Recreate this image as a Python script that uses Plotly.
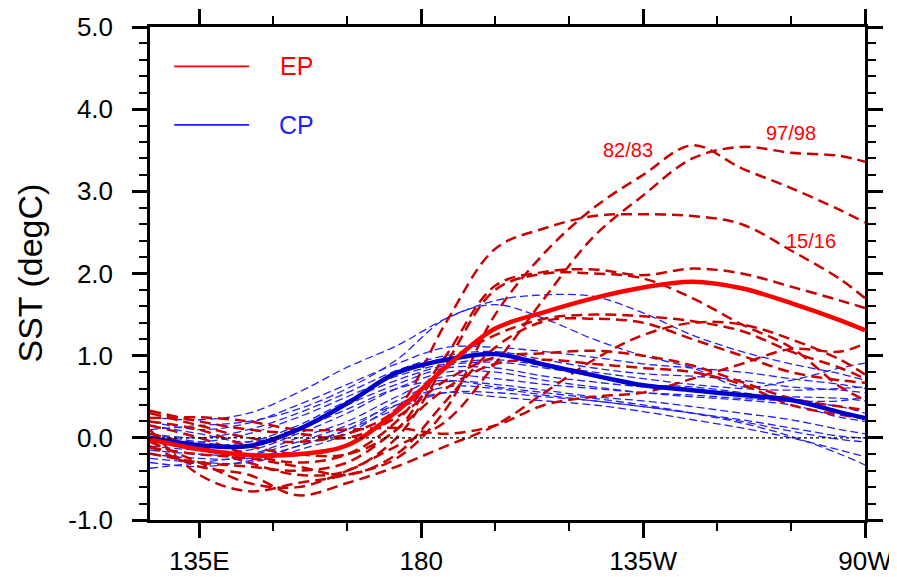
import plotly.graph_objects as go

# Longitude grid (degrees east)
lons = [125, 135, 145, 155, 165, 175, 185, 195, 205, 215, 225, 235, 245, 255, 265, 270]

# Composite means
ep_mean = [-0.02, -0.14, -0.21, -0.20, -0.09, 0.32, 0.86, 1.33, 1.53, 1.70, 1.83, 1.90, 1.82, 1.64, 1.43, 1.31]
cp_mean = [0.00, -0.09, -0.10, 0.10, 0.42, 0.79, 0.95, 1.02, 0.89, 0.76, 0.64, 0.58, 0.52, 0.46, 0.31, 0.24]

# Individual EP events (dashed)
ep_8283 = [0.10, -0.45, -0.65, -0.55, -0.45, -0.25, 0.35, 1.50, 2.25, 2.80, 3.20, 3.56, 3.28, 3.04, 2.77, 2.62]
ep_9798 = [-0.05, -0.30, -0.55, -0.60, -0.40, -0.10, 0.20, 0.90, 1.70, 2.45, 2.95, 3.40, 3.54, 3.47, 3.43, 3.36]
ep_1516 = [0.30, 0.15, 0.00, -0.05, 0.05, 0.35, 1.40, 2.30, 2.55, 2.70, 2.72, 2.70, 2.60, 2.28, 1.93, 1.70]
ep_e4 = [0.15, 0.00, -0.20, -0.30, -0.20, 0.20, 1.00, 1.85, 2.02, 2.05, 1.98, 2.06, 2.00, 1.84, 1.67, 1.58]
ep_e5 = [0.05, -0.10, -0.30, -0.45, -0.40, 0.00, 0.90, 1.80, 2.00, 2.00, 1.94, 1.70, 1.38, 1.10, 0.62, 0.46]
ep_e6 = [0.20, 0.10, -0.10, -0.20, -0.20, 0.10, 0.90, 1.25, 1.45, 1.50, 1.48, 1.42, 1.30, 1.05, 0.85, 0.72]
ep_e7 = [0.33, 0.20, 0.10, 0.05, 0.00, 0.25, 0.70, 0.98, 1.03, 1.06, 1.00, 0.88, 0.68, 0.48, 0.38, 0.34]
ep_e8 = [0.24, 0.25, 0.20, 0.10, 0.10, 0.12, 0.05, 0.15, 0.40, 0.50, 0.55, 0.72, 0.90, 1.08, 1.05, 1.15]
ep_e9 = [-0.10, -0.35, -0.45, -0.70, -0.55, -0.35, -0.10, 0.15, 0.55, 0.95, 1.25, 1.40, 1.38, 1.20, 0.95, 0.77]
ep_e10 = [-0.19, -0.30, -0.35, -0.40, -0.30, 0.10, 0.60, 0.90, 0.95, 0.90, 0.85, 0.80, 0.65, 0.40, 0.28, 0.24]
ep_e11 = [-0.12, -0.20, -0.25, -0.35, -0.45, -0.20, 0.45, 1.10, 1.42, 1.45, 1.40, 1.20, 1.00, 0.80, 0.70, 0.67]
ep_events = [ep_8283, ep_9798, ep_1516, ep_e4, ep_e5, ep_e6, ep_e7, ep_e8, ep_e9, ep_e10, ep_e11]

# Individual CP events (dashed)
cp_c1 = [0.25, 0.22, 0.30, 0.55, 0.86, 1.12, 1.45, 1.67, 1.74, 1.72, 1.52, 1.25, 1.05, 0.90, 0.78, 0.70]
cp_c2 = [0.10, 0.15, 0.20, 0.35, 0.60, 0.95, 1.45, 1.62, 1.45, 1.20, 1.00, 0.85, 0.62, 0.70, 0.85, 0.91]
cp_c3 = [0.20, 0.10, 0.18, 0.40, 0.65, 0.90, 1.10, 1.10, 1.05, 0.98, 0.90, 0.85, 0.80, 0.72, 0.65, 0.60]
cp_c4 = [0.05, 0.00, 0.10, 0.30, 0.55, 0.82, 1.00, 1.05, 0.95, 0.85, 0.78, 0.75, 0.70, 0.62, 0.58, 0.55]
cp_c5 = [0.00, -0.05, 0.05, 0.25, 0.50, 0.75, 0.90, 0.95, 0.88, 0.80, 0.72, 0.65, 0.60, 0.58, 0.60, 0.62]
cp_c6 = [-0.05, -0.10, -0.05, 0.15, 0.45, 0.70, 0.88, 0.92, 0.85, 0.75, 0.65, 0.62, 0.55, 0.45, 0.38, 0.30]
cp_c7 = [0.15, 0.05, -0.05, 0.10, 0.40, 0.65, 0.85, 0.85, 0.75, 0.68, 0.62, 0.58, 0.52, 0.50, 0.48, 0.45]
cp_c8 = [-0.10, -0.15, -0.15, 0.05, 0.30, 0.60, 0.80, 0.80, 0.70, 0.62, 0.55, 0.50, 0.46, 0.40, 0.25, 0.20]
cp_c9 = [-0.15, -0.20, -0.20, 0.00, 0.20, 0.50, 0.75, 0.72, 0.65, 0.60, 0.55, 0.52, 0.48, 0.45, 0.45, 0.50]
cp_c10 = [-0.20, -0.25, -0.25, -0.10, 0.10, 0.45, 0.68, 0.65, 0.58, 0.50, 0.45, 0.38, 0.30, 0.22, 0.10, 0.05]
cp_c11 = [-0.25, -0.30, -0.30, -0.15, 0.05, 0.40, 0.62, 0.60, 0.52, 0.45, 0.38, 0.30, 0.22, 0.12, 0.02, 0.00]
cp_c12 = [-0.30, -0.35, -0.28, -0.10, 0.10, 0.35, 0.55, 0.55, 0.50, 0.45, 0.38, 0.30, 0.20, 0.08, -0.02, -0.05]
cp_c13 = [-0.37, -0.30, -0.22, -0.05, 0.15, 0.40, 0.55, 0.50, 0.45, 0.40, 0.32, 0.22, 0.12, 0.00, -0.15, -0.23]
cp_c14 = [0.05, -0.05, -0.10, 0.10, 0.35, 0.60, 0.70, 0.62, 0.55, 0.48, 0.40, 0.30, 0.18, 0.02, -0.20, -0.33]
cp_events = [cp_c1, cp_c2, cp_c3, cp_c4, cp_c5, cp_c6, cp_c7, cp_c8, cp_c9, cp_c10, cp_c11, cp_c12, cp_c13, cp_c14]

x_tickvals = [135, 180, 225, 270]
x_ticktext = ["135E", "180", "135W", "90W"]
y_tickvals = [-1, 0, 1, 2, 3, 4, 5]
y_ticktext = ["-1.0", "0.0", "1.0", "2.0", "3.0", "4.0", "5.0"]

event_labels = ["82/83", "97/98", "15/16"]
label_lon = [221.9, 255.0, 259.1]
label_val = [3.50, 3.71, 2.40]

FONT = "Liberation Sans, Arial, Helvetica, sans-serif"
EP_DASH_COLOR = "#C80000"
CP_DASH_COLOR = "#2222FF"

fig = go.Figure()

for ev in cp_events:
    fig.add_trace(go.Scatter(x=lons, y=ev, mode="lines", line=dict(color=CP_DASH_COLOR, width=1.3, dash="8px,4px", shape="spline"), showlegend=False, hoverinfo="skip"))
for ev in ep_events:
    fig.add_trace(go.Scatter(x=lons, y=ev, mode="lines", line=dict(color=EP_DASH_COLOR, width=2.5, dash="11px,6px", shape="spline"), showlegend=False, hoverinfo="skip"))

fig.add_trace(go.Scatter(x=lons, y=cp_mean, mode="lines", line=dict(color="#0000CC", width=4.5, shape="spline"), showlegend=False))
fig.add_trace(go.Scatter(x=lons, y=ep_mean, mode="lines", line=dict(color="#FF0000", width=4.5, shape="spline"), showlegend=False))

# zero line
fig.add_shape(type="line", xref="paper", x0=0, x1=1, yref="y", y0=0, y1=0, line=dict(color="black", width=1.3, dash="3px,3px"))

# legend (manual)
fig.add_shape(type="line", xref="x", yref="y", x0=129.9, x1=145.1, y0=4.52, y1=4.52, line=dict(color="#FF0000", width=1.8))
fig.add_shape(type="line", xref="x", yref="y", x0=129.9, x1=145.1, y0=3.81, y1=3.81, line=dict(color="#1E1EFF", width=1.8))
fig.add_annotation(x=154.8, y=4.52, xref="x", yref="y", text="EP", showarrow=False, xanchor="center", yanchor="middle", font=dict(family=FONT, size=25, color="#FF0000"))
fig.add_annotation(x=154.8, y=3.81, xref="x", yref="y", text="CP", showarrow=False, xanchor="center", yanchor="middle", font=dict(family=FONT, size=25, color="#1E1EFF"))

for t, lx, ly in zip(event_labels, label_lon, label_val):
    fig.add_annotation(x=lx, y=ly, xref="x", yref="y", text=t, showarrow=False, xanchor="center", yanchor="middle", font=dict(family=FONT, size=20, color="#FF0000"))

# y title
fig.add_annotation(x=(29 - 150) / 715, y=0.5, xref="paper", yref="paper", text="SST (degC)", textangle=-90, showarrow=False, xanchor="center", yanchor="middle", font=dict(family=FONT, size=34, color="black"))

axis_common = dict(showline=True, linecolor="black", linewidth=2.5, mirror="allticks", ticks="outside", ticklen=15, tickwidth=2.5, tickcolor="black", showgrid=False, zeroline=False, automargin=False, tickfont=dict(family=FONT, size=26, color="black"))

fig.update_xaxes(range=[125, 270], tickvals=x_tickvals, ticktext=x_ticktext,
                 minor=dict(tickvals=[150, 165, 195, 210, 240, 255], ticklen=8, tickwidth=2, tickcolor="black", ticks="outside", showgrid=False),
                 ticklabelstandoff=1, **axis_common)
fig.update_yaxes(range=[-1, 5], tickvals=y_tickvals, ticktext=y_ticktext,
                 minor=dict(dtick=0.2, tick0=0, ticklen=8, tickwidth=2, tickcolor="black", ticks="outside", showgrid=False),
                 ticklabelstandoff=14, **axis_common)

# page body adds an 8px offset, so margins are shifted to place the plot area at 150..865 x 27..520
fig.update_layout(width=897, height=577, margin=dict(l=142, r=40, t=19, b=65, autoexpand=False),
                  plot_bgcolor="white", paper_bgcolor="white", showlegend=False)

fig.write_html("out.html")
